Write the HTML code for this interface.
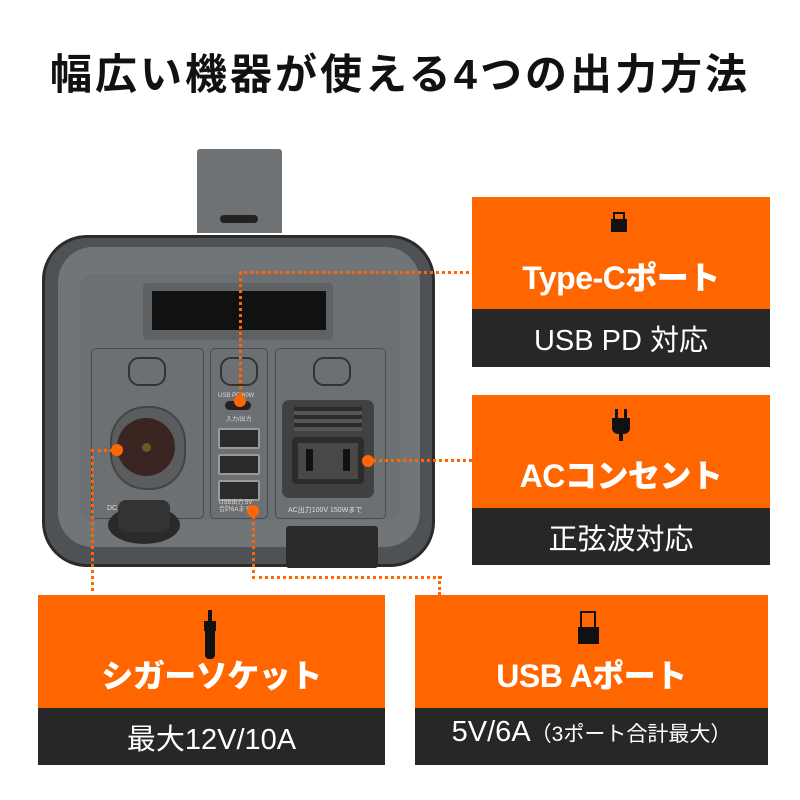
<!DOCTYPE html>
<html><head><meta charset="utf-8"><style>
body{margin:0;width:800px;height:800px;background:#fff;position:relative;overflow:hidden;font-family:"Liberation Sans","Noto Sans CJK JP",sans-serif}
.a{position:absolute}
.title{left:0;width:800px;top:48px;text-align:center;font-size:42px;font-weight:bold;color:#111;letter-spacing:3px;line-height:54px}
.or{background:#ff6600;color:#fff;font-weight:bold;text-align:center}
.dk{background:#272727;color:#fff;text-align:center}
.h{position:absolute;left:0;right:0;font-size:32px;font-weight:900;letter-spacing:-0.5px}
.s{position:absolute;left:0;right:0;font-size:29px}
.dot{position:absolute;width:12px;height:12px;border-radius:50%;background:#ff6600}
.ln{position:absolute;border-color:#ff6600;border-style:dotted;border-width:0}
.btn{position:absolute;width:34px;height:25px;border:2px solid #333;border-radius:11px;background:#6d7072}
.usb{position:absolute;left:218px;width:38px;height:17px;background:#2a2a2a;border:2px solid #999;border-radius:2px}
</style></head><body>
<div class="a title">幅広い機器が使える4つの出力方法</div>

<!-- device -->
<div class="a" style="left:197px;top:149px;width:85px;height:84px;background:#6e7275;border-radius:3px 3px 0 0"></div>
<div class="a" style="left:220px;top:215px;width:38px;height:8px;background:#222;border-radius:4px"></div>
<div class="a" style="left:42px;top:235px;width:393px;height:332px;background:#4f5254;border:3px solid #2b2b2b;border-radius:45px;box-sizing:border-box"></div>
<div class="a" style="left:58px;top:247px;width:362px;height:300px;background:#727577;border-radius:35px"></div>
<div class="a" style="left:80px;top:274px;width:320px;height:246px;background:#6d7072;border-radius:12px"></div>
<div class="a" style="left:143px;top:283px;width:190px;height:57px;background:#5f6264;border-radius:4px"></div>
<div class="a" style="left:152px;top:291px;width:174px;height:39px;background:#111"></div>
<div class="a" style="left:91px;top:348px;width:111px;height:169px;border:1px solid #4a4c4e;border-radius:5px"></div>
<div class="a" style="left:210px;top:348px;width:56px;height:169px;border:1px solid #4a4c4e;border-radius:5px"></div>
<div class="a" style="left:275px;top:348px;width:109px;height:169px;border:1px solid #4a4c4e;border-radius:5px"></div>
<div class="btn" style="left:128px;top:357px"></div>
<div class="btn" style="left:220px;top:357px"></div>
<div class="btn" style="left:313px;top:357px"></div>
<div class="a" style="left:110px;top:406px;width:72px;height:80px;border-radius:36px;background:#5a5c5e;border:2px solid #444"></div>
<div class="a" style="left:117px;top:418px;width:58px;height:58px;border-radius:50%;background:#3a2522"></div>
<div class="a" style="left:142px;top:443px;width:9px;height:9px;border-radius:50%;background:#6b5a20"></div>
<div class="a" style="left:108px;top:506px;width:72px;height:38px;border-radius:50%;background:#2a2a2a"></div>
<div class="a" style="left:118px;top:500px;width:52px;height:32px;border-radius:8px;background:#333"></div>
<div class="a" style="left:107px;top:505px;font-size:7px;color:#ddd">DC</div>
<div class="a" style="left:225px;top:401px;width:26px;height:9px;background:#222;border-radius:5px"></div>
<div class="usb" style="top:428px"></div>
<div class="usb" style="top:454px"></div>
<div class="usb" style="top:480px"></div>
<div class="a" style="left:282px;top:400px;width:92px;height:98px;background:#3f4143;border-radius:7px"></div>
<div class="a" style="left:294px;top:407px;width:68px;height:24px;background:repeating-linear-gradient(#2a2a2a 0 4px,#555 4px 8px)"></div>
<div class="a" style="left:292px;top:437px;width:72px;height:47px;background:#2c2c2c;border-radius:4px"></div>
<div class="a" style="left:298px;top:443px;width:60px;height:36px;background:#4a4847"></div>
<div class="a" style="left:306px;top:449px;width:7px;height:22px;background:#111"></div>
<div class="a" style="left:343px;top:449px;width:7px;height:22px;background:#111"></div>
<div class="a" style="left:286px;top:526px;width:92px;height:42px;background:#2a2a2a;border-radius:3px"></div>
<div class="a" style="left:218px;top:393px;font-size:6px;color:#ddd">USB PD 60W</div>
<div class="a" style="left:226px;top:414px;font-size:6px;color:#ddd">入力/出力</div>
<div class="a" style="left:219px;top:500px;font-size:6px;color:#ddd;line-height:7px">USB出力 5V<br>合計6Aまで</div>
<div class="a" style="left:288px;top:505px;font-size:7px;color:#ddd">AC出力100V 150Wまで</div>

<!-- connectors -->
<div class="ln" style="left:239px;top:271px;width:233px;height:129px;border-top-width:3px;border-left-width:3px"></div>
<div class="ln" style="left:368px;top:459px;width:104px;border-top-width:3px"></div>
<div class="ln" style="left:91px;top:449px;width:26px;height:146px;border-top-width:3px;border-left-width:3px"></div>
<div class="ln" style="left:252px;top:511px;width:187px;height:65px;border-bottom-width:3px;border-left-width:3px"></div>
<div class="ln" style="left:438px;top:576px;height:19px;border-left-width:3px"></div>
<div class="dot" style="left:234px;top:395px"></div>
<div class="dot" style="left:111px;top:444px"></div>
<div class="dot" style="left:362px;top:455px"></div>
<div class="dot" style="left:247px;top:505px"></div>

<!-- boxes -->
<div class="a or" style="left:472px;top:197px;width:298px;height:112px">
 <div class="a" style="left:139px;top:22px;width:16px;height:13px;background:#111"></div>
 <div class="a" style="left:141px;top:15px;width:8px;height:8px;border:2px solid #111;border-bottom:0"></div>
 <div class="h" style="top:56px">Type-Cポート</div></div>
<div class="a dk" style="left:472px;top:309px;width:298px;height:58px"><div class="s" style="top:8px">USB PD 対応</div></div>

<div class="a or" style="left:472px;top:395px;width:298px;height:113px">
 <div class="a" style="left:140px;top:23px;width:18px;height:16px;background:#111;border-radius:0 0 6px 6px"></div>
 <div class="a" style="left:143px;top:14px;width:3px;height:10px;background:#111"></div>
 <div class="a" style="left:152px;top:14px;width:3px;height:10px;background:#111"></div>
 <div class="a" style="left:147px;top:38px;width:4px;height:8px;background:#111"></div>
 <div class="h" style="top:56px">ACコンセント</div></div>
<div class="a dk" style="left:472px;top:508px;width:298px;height:57px"><div class="s" style="top:8px">正弦波対応</div></div>

<div class="a or" style="left:38px;top:595px;width:347px;height:113px">
 <div class="a" style="left:170px;top:15px;width:4px;height:12px;background:#111"></div>
 <div class="a" style="left:166px;top:26px;width:12px;height:10px;background:#111"></div>
 <div class="a" style="left:167px;top:36px;width:10px;height:28px;background:#111;border-radius:0 0 4px 4px"></div>
 <div class="h" style="top:56px">シガーソケット</div></div>
<div class="a dk" style="left:38px;top:708px;width:347px;height:57px"><div class="s" style="top:8px">最大12V/10A</div></div>

<div class="a or" style="left:415px;top:595px;width:353px;height:113px">
 <div class="a" style="left:165px;top:16px;width:16px;height:18px;border:2px solid #111;box-sizing:border-box"></div>
 <div class="a" style="left:163px;top:32px;width:21px;height:17px;background:#111"></div>
 <div class="h" style="top:56px">USB Aポート</div></div>
<div class="a dk" style="left:415px;top:708px;width:353px;height:57px"><div class="s" style="top:8px">5V/6A<span style="font-size:21px">（3ポート合計最大）</span></div></div>
</body></html>
